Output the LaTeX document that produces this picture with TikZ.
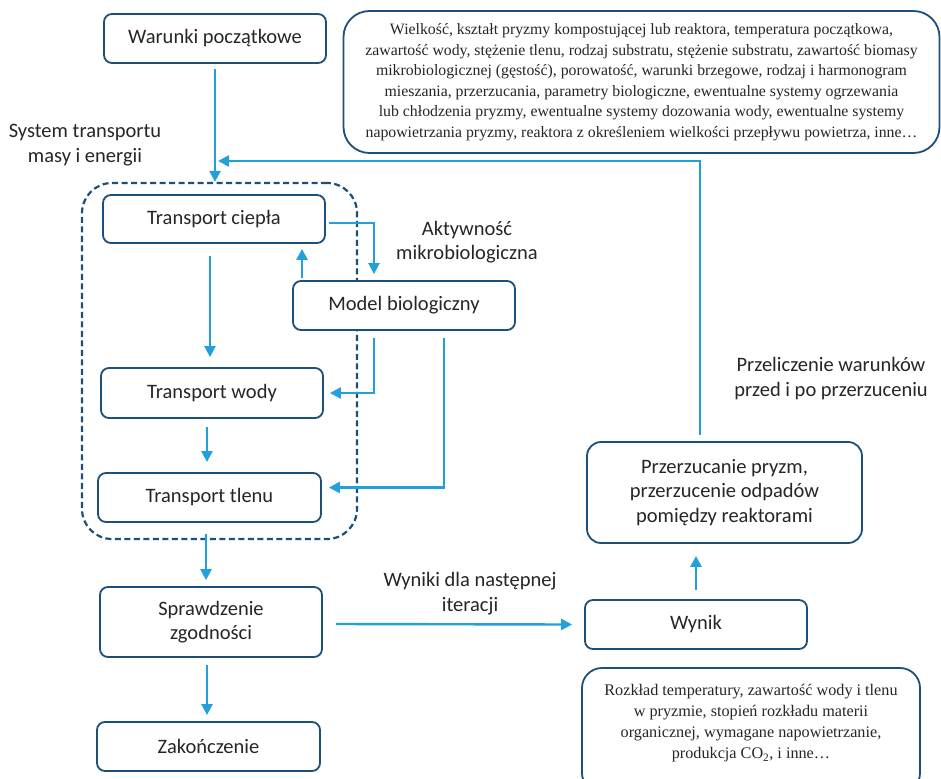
\documentclass[tikz,border=0pt]{standalone}
\usepackage{fontspec}
\setmainfont{Carlito}
\newfontfamily\timesf{Liberation Serif}
\usetikzlibrary{arrows.meta,calc}
\definecolor{boxc}{HTML}{1D4F78}
\definecolor{arrc}{HTML}{22A0DC}
\definecolor{txt}{HTML}{262626}
\begin{document}
\begin{tikzpicture}[x=1pt,y=-1pt,
  box/.style={draw=boxc, line width=1.8pt, rounded corners=8pt, fill=white,
    minimum width=222pt, minimum height=49pt, inner sep=0pt, align=center,
    font=\fontsize{20.5}{24.5}\selectfont, text=txt},
  lbl/.style={align=center, font=\fontsize{20.5}{24.5}\selectfont, text=txt, inner sep=0pt},
  serif/.style={align=center, font=\timesf\fontsize{16.2}{21}\selectfont, text=txt, inner sep=0pt},
  arr/.style={draw=arrc, line width=2.4pt, -{Triangle[length=11pt,width=11pt]}},
  sysbox/.style={draw=boxc, line width=2.2pt, rounded corners=30pt, dash pattern=on 6pt off 3.5pt}]
\useasboundingbox (0,0) rectangle (941,778);
\clip (0,0) rectangle (941,778);
\fill[white] (0,0) rectangle (941,778);

% dashed system box
\node[sysbox, minimum width=275pt, minimum height=356pt, inner sep=0pt] (sys) at (219.5,361) {};

% main nodes
\node[box] (war) at (215,38.5) {Warunki początkowe};
\node[box, minimum height=48pt] (tc) at (214,219) {Transport ciepła};
\node[box] (mb) at (404,305.5) {Model biologiczny};
\node[box, minimum height=50pt] (tw) at (212,393) {Transport wody};
\node[box, minimum width=223pt] (tt) at (209.5,497.5) {Transport tlenu};
\node[box, minimum height=70pt] (sz) at (211,622) {Sprawdzenie\\zgodności};
\node[box, minimum width=223pt] (zak) at (208.5,746.5) {Zakończenie};
\node[box] (wyn) at (696,624.5) {Wynik};
\node[box, minimum width=275pt, minimum height=101pt, rounded corners=14pt] (prz) at (724.5,492.5) {Przerzucanie pryzm,\\przerzucenie odpadów\\pomiędzy reaktorami};

% info boxes
\node[box, minimum width=596pt, minimum height=142pt, rounded corners=26pt, font=\timesf\fontsize{15.8}{20.5}\selectfont] (info) at (641.5,82)
 {Wielkość, kształt pryzmy kompostującej lub reaktora, temperatura początkowa,\\
  zawartość wody, stężenie tlenu, rodzaj substratu, stężenie substratu, zawartość biomasy\\
  mikrobiologicznej (gęstość), porowatość, warunki brzegowe, rodzaj i harmonogram\\
  mieszania, przerzucania, parametry biologiczne, ewentualne systemy ogrzewania\\
  lub chłodzenia pryzmy, ewentualne systemy dozowania wody, ewentualne systemy\\
  napowietrzania pryzmy, reaktora z określeniem wielkości przepływu powietrza, inne…};
\node[box, minimum width=338pt, minimum height=125pt, rounded corners=20pt] (resbox) at (751,730.5) {};
\node[serif] (restext) at (751,723.5) {Rozkład temperatury, zawartość wody i tlenu\\
  w pryzmie, stopień rozkładu materii\\
  organicznej, wymagane napowietrzanie,\\
  produkcja CO\textsubscript{2}, i inne…};

% labels
\node[lbl] (lsys) at (85,145) {System transportu\\masy i energii};
\node[lbl] (lakt) at (467,242) {Aktywność\\mikrobiologiczna};
\node[lbl] (lwyn) at (470,593.5) {Wyniki dla następnej\\iteracji};
\node[lbl] (lprz) at (831,378.5) {Przeliczenie warunków\\przed i po przerzuceniu};

% connectors
\draw[arr] ([yshift=-5pt]war.south) -- (war.south |- sys.north);
\coordinate (fb1) at (700,435);
\coordinate (fb2) at (218,161);
\draw[arr] (fb1) |- (fb2);
\draw[arr] ([shift={(3,4)}]tc.east) -| ([shift={(-30,-6)}]mb.north);
\draw[arr] ([shift={(-102,-2)}]mb.north) -- ([shift={(88,5)}]tc.south);
\draw[arr] ([shift={(-4,12)}]tc.south) -- ([shift={(-2,-10)}]tw.north);
\draw[arr] ([shift={(-30,7)}]mb.south) |- ([xshift=6pt]tw.east);
\draw[arr] ([shift={(40,7)}]mb.south) |- ([shift={(7,-10)}]tt.east);
\draw[arr] ([shift={(-5,8)}]tw.south) -- ([shift={(-2.5,-10)}]tt.north);
\draw[arr] ([shift={(-3.5,11.5)}]tt.south) -- ([shift={(-5,-6)}]sz.north);
\draw[arr] ([shift={(-4,7)}]sz.south) -- ([shift={(-1.5,-6)}]zak.north);
\draw[arr] ([shift={(13,2)}]sz.east) -- ([shift={(-12,0)}]wyn.west);
\draw[arr] ([yshift=9pt]wyn.north) -- ([shift={(-28.5,12)}]prz.south);
\end{tikzpicture}
\end{document}
